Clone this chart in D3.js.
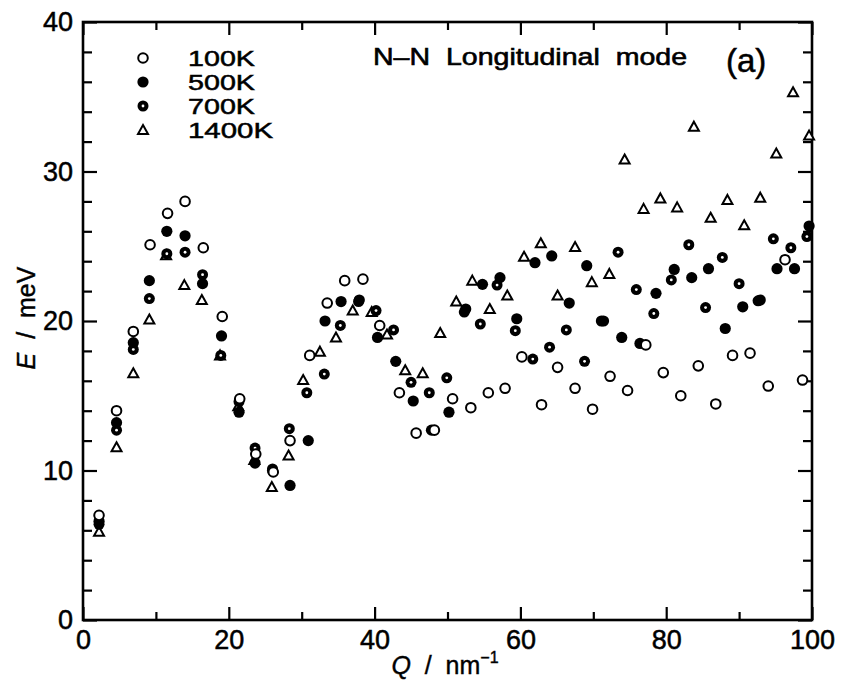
<!DOCTYPE html>
<html>
<head>
<meta charset="utf-8">
<script src="https://cdn.jsdelivr.net/npm/d3@7"></script>
<style>
  body { margin: 0; background: #fff; }
  svg text { font-family: "Liberation Sans", Arial, sans-serif; fill: #000; white-space: pre; }
</style>
</head>
<body>
<div id="chart"></div>
<script>
// values
var q100 = [2.2, 4.6, 6.9, 9.2, 11.6, 14.0, 16.5, 19.1, 21.5, 23.7, 26.1, 28.4, 31.1, 33.5, 35.9, 38.4, 40.7, 43.4, 45.7, 48.2,
            50.7, 53.2, 55.6, 57.9, 60.2, 62.9, 65.1, 67.5, 69.9, 72.3, 74.7, 77.2, 79.6, 82.0, 84.4, 86.8, 89.1, 91.5, 94.0, 96.3, 98.7];
var e100 = [7.0, 14.0, 19.3, 25.1, 27.2, 28.0, 24.9, 20.3, 14.8, 11.1, 9.9, 12.0, 17.7, 21.2, 22.7, 22.8, 19.7, 15.2, 12.5, 12.7,
            14.8, 14.2, 15.2, 15.5, 17.6, 14.4, 16.9, 15.5, 14.1, 16.3, 15.35, 18.4, 16.55, 15.0, 17.0, 14.45, 17.7, 17.85, 15.65, 24.1, 16.05];

var q500 = [2.2, 4.6, 6.9, 9.1, 11.5, 14.0, 16.4, 19.0, 21.4, 23.6, 26.0, 28.4, 30.9, 33.2, 35.4, 37.9, 40.4, 42.9, 45.3, 47.8,
            50.2, 52.5, 54.8, 57.2, 59.5, 62.0, 64.3, 66.7, 69.1, 71.4, 73.9, 76.4, 78.6, 81.1, 83.5, 85.8, 88.1, 90.5, 92.9, 95.2, 97.6, 99.6];
var e500 = [6.6, 13.2, 18.55, 22.7, 26.0, 25.7, 22.5, 19.0, 13.9, 10.5, 10.0, 9.0, 12.0, 20.0, 21.3, 21.4, 18.9, 17.3, 14.65, 12.7,
            13.9, 20.8, 22.45, 22.9, 20.15, 23.9, 24.35, 21.2, 23.7, 20.0, 18.9, 18.5, 21.85, 23.45, 22.9, 23.5, 19.5, 20.95, 21.4, 23.5, 23.5, 26.35];

var q700 = [2.2, 4.6, 6.9, 9.1, 11.5, 14.0, 16.4, 18.9, 21.4, 23.6, 26.0, 28.3, 30.7, 33.1, 35.3, 37.8, 40.2, 42.6, 45.0, 47.5,
            49.9, 52.3, 54.5, 56.8, 59.3, 61.7, 64.0, 66.3, 68.8, 71.1, 73.4, 75.9, 78.3, 80.7, 83.1, 85.4, 87.7, 90.0, 92.6, 94.7, 97.1, 99.3];
var e700 = [6.4, 12.7, 18.1, 21.5, 24.5, 24.6, 23.1, 17.7, 14.6, 11.5, 10.1, 12.8, 15.2, 16.45, 19.7, 21.3, 20.7, 19.4, 15.9, 15.2,
            16.2, 20.6, 19.8, 22.4, 19.35, 17.45, 18.25, 19.4, 17.3, 20.0, 24.6, 22.1, 20.5, 22.75, 25.1, 20.9, 24.25, 22.5, 21.35, 25.5, 24.9, 25.65];

var q1400 = [2.2, 4.6, 6.9, 9.1, 11.4, 13.9, 16.3, 18.8, 21.3, 23.5, 25.9, 28.2, 30.2, 32.5, 34.7, 37.0, 39.6, 41.7, 44.2, 46.6,
             49.0, 51.2, 53.4, 55.8, 58.2, 60.5, 62.8, 65.1, 67.5, 69.8, 72.2, 74.3, 76.9, 79.2, 81.5, 83.8, 86.1, 88.4, 90.7, 92.9, 95.1, 97.4, 99.6];
var e1400 = [5.9, 11.55, 16.5, 20.1, 24.4, 22.4, 21.4, 17.7, 14.3, 10.7, 8.9, 11.0, 16.05, 17.95, 18.9, 20.7, 20.6, 19.1, 16.7, 16.5,
             19.2, 21.3, 22.7, 20.8, 21.7, 24.3, 25.2, 21.7, 24.95, 22.6, 23.15, 30.8, 27.5, 28.2, 27.6, 33.0, 26.9, 28.1, 26.4, 28.25, 31.2, 35.3, 32.4];

var seriesNames = ["100K", "500K", "700K", "1400K"];
var xMajor = [0, 20, 40, 60, 80, 100];
var xMinor = [10, 30, 50, 70, 90];
var yMajor = [0, 10, 20, 30, 40];
var yMinor = d3.range(0, 41, 2);

var width = 851, height = 685;
var margin = {top: 22, right: 39, bottom: 65, left: 83};

var svg = d3.select("#chart").append("svg")
    .attr("width", width)
    .attr("height", height);

var x = d3.scaleLinear().domain([0, 100]).range([margin.left, width - margin.right]),
    y = d3.scaleLinear().domain([0, 40]).range([height - margin.bottom, margin.top]);

var x0 = x.range()[0], x1 = x.range()[1], y0 = y.range()[0], y1 = y.range()[1];

function styleAxis(g) {
  g.select(".domain").remove();
  g.selectAll(".tick line").attr("stroke", "#000").attr("stroke-width", 2.2);
  g.selectAll(".tick text").attr("font-size", 27).attr("fill", "#000")
      .attr("stroke", "#000").attr("stroke-width", 0.5);
}

// bottom
svg.append("g").attr("transform", "translate(0," + y0 + ")")
    .call(d3.axisBottom(x).tickValues(xMajor).tickSize(-13).tickPadding(10).tickFormat(d3.format("d")))
    .call(styleAxis);
svg.append("g").attr("transform", "translate(0," + y0 + ")")
    .call(d3.axisBottom(x).tickValues(xMinor).tickSize(-8).tickFormat(""))
    .call(styleAxis);
// top
svg.append("g").attr("transform", "translate(0," + y1 + ")")
    .call(d3.axisTop(x).tickValues(xMajor).tickSize(-13).tickFormat(""))
    .call(styleAxis);
svg.append("g").attr("transform", "translate(0," + y1 + ")")
    .call(d3.axisTop(x).tickValues(xMinor).tickSize(-8).tickFormat(""))
    .call(styleAxis);
// left
svg.append("g").attr("transform", "translate(" + x0 + ",0)")
    .call(d3.axisLeft(y).tickValues(yMajor).tickSize(-14).tickPadding(10).tickFormat(d3.format("d")))
    .call(styleAxis);
svg.append("g").attr("transform", "translate(" + x0 + ",0)")
    .call(d3.axisLeft(y).tickValues(yMinor.filter(function(d) { return d % 10; })).tickSize(-9).tickFormat(""))
    .call(styleAxis);
// right
svg.append("g").attr("transform", "translate(" + x1 + ",0)")
    .call(d3.axisRight(y).tickValues(yMajor).tickSize(-14).tickFormat(""))
    .call(styleAxis);
svg.append("g").attr("transform", "translate(" + x1 + ",0)")
    .call(d3.axisRight(y).tickValues(yMinor.filter(function(d) { return d % 10; })).tickSize(-9).tickFormat(""))
    .call(styleAxis);

svg.append("rect")
    .attr("x", x0).attr("y", y1)
    .attr("width", x1 - x0).attr("height", y0 - y1)
    .attr("fill", "none").attr("stroke", "#000").attr("stroke-width", 2.6);

// markers
function drawMarker(sel, kind) {
  if (kind === 0) {
    sel.append("circle").attr("r", 4.8).attr("fill", "#fff").attr("stroke", "#000").attr("stroke-width", 2);
  } else if (kind === 1) {
    sel.append("circle").attr("r", 5.6).attr("fill", "#000");
  } else if (kind === 2) {
    sel.append("circle").attr("r", 5.5).attr("fill", "#000");
    sel.append("circle").attr("r", 1.4).attr("fill", "#fff");
  } else {
    sel.append("path").attr("d", "M0,-5L5,4L-5,4Z")
        .attr("fill", "#fff").attr("stroke", "#000").attr("stroke-width", 2).attr("stroke-linejoin", "miter");
  }
}

var series = [
  {q: q100, e: e100},
  {q: q500, e: e500},
  {q: q700, e: e700},
  {q: q1400, e: e1400}
];

// draw hot series first so the 100K circles sit on top
[3, 2, 1, 0].forEach(function(k) {
  var s = series[k];
  var pts = s.q.map(function(q, i) { return {q: q, e: s.e[i]}; });
  svg.append("g").selectAll("g")
    .data(pts)
    .enter().append("g")
      .attr("transform", function(d) { return "translate(" + x(d.q) + "," + y(d.e) + ")"; })
      .each(function() { drawMarker(d3.select(this), k); });
});

// legend
var legend = svg.append("g");
seriesNames.forEach(function(name, i) {
  var ly = 58 + i * 24;
  drawMarker(legend.append("g").attr("transform", "translate(143," + ly + ")"), i);
  legend.append("text")
      .attr("x", 188).attr("y", ly + 8)
      .attr("font-size", 22)
      .attr("textLength", name.length === 4 ? 67 : 85)
      .attr("lengthAdjust", "spacingAndGlyphs")
      .attr("stroke", "#000").attr("stroke-width", 0.5)
      .text(name);
});

svg.append("text")
    .attr("x", 373).attr("y", 65)
    .attr("font-size", 24)
    .attr("textLength", 314)
    .attr("lengthAdjust", "spacingAndGlyphs")
    .attr("stroke", "#000").attr("stroke-width", 0.6)
    .text("N\u2013N  Longitudinal  mode");

svg.append("text")
    .attr("x", 726).attr("y", 72)
    .attr("font-size", 33)
    .attr("stroke", "#000").attr("stroke-width", 0.5)
    .text("(a)");

// axis titles
var xt = svg.append("text")
    .attr("x", 445).attr("y", 674)
    .attr("text-anchor", "middle")
    .attr("font-size", 25)
    .attr("stroke", "#000").attr("stroke-width", 0.4);
xt.append("tspan").attr("font-style", "italic").text("Q");
xt.append("tspan").text("  /  nm");
xt.append("tspan").attr("font-size", 16).attr("dy", -11).text("\u22121");

var yt = svg.append("text")
    .attr("transform", "translate(35," + 318 + ") rotate(-90)")
    .attr("text-anchor", "middle")
    .attr("font-size", 25)
    .attr("stroke", "#000").attr("stroke-width", 0.4);
yt.append("tspan").attr("font-style", "italic").text("E");
yt.append("tspan").text("  /  meV");
</script>
</body>
</html>
